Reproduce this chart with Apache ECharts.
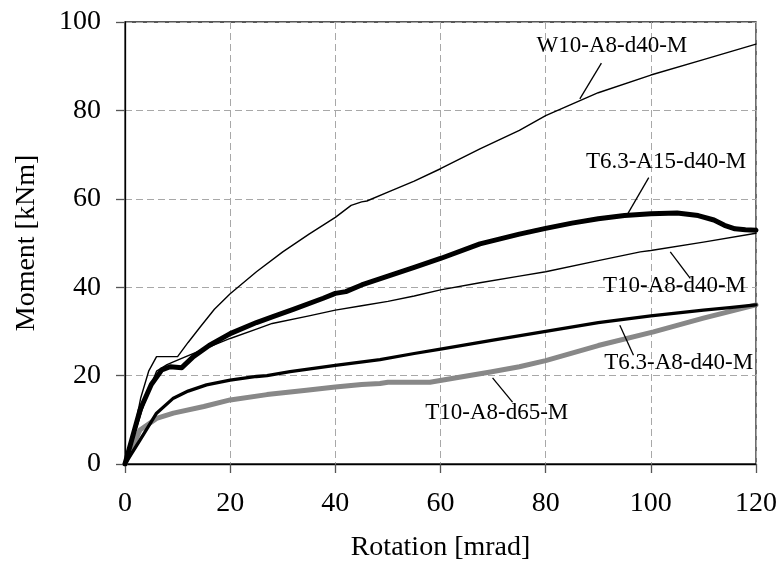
<!DOCTYPE html>
<html>
<head>
<meta charset="utf-8">
<script src="https://cdn.jsdelivr.net/npm/echarts@6/dist/echarts.min.js"></script>
<style>html,body{margin:0;padding:0;background:#fff}#c{width:784px;height:580px}</style>
</head>
<body>
<div id="c"></div>
<script>
// ---- data (rotation [mrad], moment [kNm]) ----
const xTicks = [0, 20, 40, 60, 80, 100, 120];
const yTicks = [0, 20, 40, 60, 80, 100];

const W10_A8_d40 = [[0,0],[2,9],[3,15],[4.5,21],[6,24.3],[10,24.3],[12,27.5],[14.3,31],[17,35],[20,38.5],[25,43.5],[30,48],[35,52],[40,55.8],[43,58.5],[45,59.3],[46,59.5],[50,61.5],[55,64],[60,66.8],[67.5,71.3],[75,75.5],[80,78.8],[90,84],[100,88],[110,91.5],[120,95]];
const T63_A15_d40 = [[0,0],[2.85,12.2],[5,18],[7,21.3],[8.6,22],[10.8,21.8],[13,24.3],[16,26.8],[20,29.5],[25,32],[28,33.3],[32,35],[37.7,37.5],[40,38.6],[42,39],[45,40.5],[50,42.5],[55,44.5],[60,46.5],[67.5,49.8],[75,52],[80,53.3],[85,54.5],[90,55.5],[95,56.2],[100,56.6],[105,56.8],[109,56.2],[112,55.2],[114,54],[116,53.2],[118,53],[120,52.9]];
const T10_A8_d40 = [[0,0],[2,7.5],[4,15],[6,21],[8,22.5],[9.2,23.1],[11.8,24.4],[15,26],[20,28.4],[25,30.5],[28,31.8],[35,33.5],[40,34.8],[45,35.8],[50,36.8],[55,38],[60,39.4],[67.5,41],[75,42.5],[80,43.5],[90,46],[98,48],[100,48.3],[110,50.2],[120,52.2]];
const T63_A8_d40 = [[0,0],[2.85,5.4],[6,11.5],[9.2,14.9],[12,16.5],[15.5,17.9],[20,19],[25,19.8],[27,20],[31.4,20.9],[40,22.3],[48.5,23.6],[55,25],[60,26],[70,28],[80,30],[90,32],[100,33.5],[110,34.8],[115,35.4],[120,36]];
const T10_A8_d65 = [[0,0],[1.5,4],[2.85,7.7],[6,10.3],[9.2,11.5],[15,13],[20,14.5],[27,15.7],[34.5,16.7],[40,17.4],[45,18],[48.5,18.2],[50,18.5],[58,18.5],[63,19.5],[69.5,20.8],[75,22],[80,23.4],[90,26.8],[100.5,29.9],[110,33],[120,36]];

// annotation: label, text centre [x,y], arrow tail [x,y], arrow tip [x,y]
const annLabels = ['W10-A8-d40-M','T6.3-A15-d40-M','T10-A8-d40-M','T6.3-A8-d40-M','T10-A8-d65-M'];
const annText   = [[92.6,94.6],[102.9,68.3],[104.5,40.3],[105.3,22.9],[70.7,11.5]];
const annTail   = [[90.6,90.7],[99.6,64.8],[107.5,42.0],[96.7,24.6],[73.7,14.0]];
const annTip    = [[86.5,82.6],[95.6,56.6],[103.7,48.0],[94.1,31.4],[69.9,19.5]];

const FONT = '"Liberation Serif","Times New Roman",serif';

const chart = echarts.init(document.getElementById('c'), null, {renderer:'canvas'});

function lineSeries(name, data, color, width, z){
  return {name, type:'line', data, showSymbol:false, symbol:'none', smooth:false,
    lineStyle:{color, width, cap:'round', join:'round'}, z, animation:false};
}

const series = [
  lineSeries('T10-A8-d65-M', T10_A8_d65, '#888888', 5, 2),
  lineSeries('T6.3-A8-d40-M', T63_A8_d40, '#000', 3.3, 3),
  lineSeries('T10-A8-d40-M', T10_A8_d40, '#000', 1.4, 4),
  lineSeries('T6.3-A15-d40-M', T63_A15_d40, '#000', 5, 5),
  lineSeries('W10-A8-d40-M', W10_A8_d40, '#000', 1.4, 6)
];

// helper series that carries annotations
series.push({
  type:'line', data:[], silent:true, animation:false, z:10,
  markLine:{
    silent:true, animation:false, symbol:['none','arrow'], symbolSize:[0,13],
    label:{show:false},
    lineStyle:{color:'#000', width:1.3, type:'solid'},
    data: annLabels.map((l,i)=>[{coord:annTail[i]},{coord:annTip[i]}])
  },
  markPoint:{
    silent:true, animation:false, symbol:'circle', symbolSize:0,
    label:{show:true, position:'inside', color:'#000', fontFamily:FONT, fontSize:23, formatter:p=>p.name},
    data: annLabels.map((l,i)=>({name:l, coord:annText[i]}))
  }
});

chart.setOption({
  animation:false,
  backgroundColor:'#fff',
  grid:{left:125, right:28, top:22, bottom:116, show:true, borderColor:'#222', borderWidth:1.3, backgroundColor:'transparent'},
  xAxis:{
    type:'value', min:xTicks[0], max:xTicks[xTicks.length-1], interval:20,
    name:'Rotation [mrad]', nameLocation:'middle', nameGap:70,
    nameTextStyle:{fontFamily:FONT, fontSize:28, color:'#000'},
    axisLine:{show:true, lineStyle:{color:'#000', width:1.3}},
    axisTick:{show:true, inside:false, length:9, lineStyle:{color:'#555', width:1.3}},
    axisLabel:{fontFamily:FONT, fontSize:28, color:'#000', margin:26},
    splitLine:{show:true, lineStyle:{color:'#a8a8a8', type:[7,4], width:1}}
  },
  yAxis:{
    type:'value', min:yTicks[0], max:yTicks[yTicks.length-1], interval:20,
    name:'Moment [kNm]', nameLocation:'middle', nameGap:84,
    nameTextStyle:{fontFamily:FONT, fontSize:28, color:'#000'},
    axisLine:{show:true, lineStyle:{color:'#000', width:1.3}},
    axisTick:{show:true, inside:false, length:9, lineStyle:{color:'#555', width:1.3}},
    axisLabel:{fontFamily:FONT, fontSize:28, color:'#000', margin:24},
    splitLine:{show:true, lineStyle:{color:'#a8a8a8', type:[7,4], width:1}}
  },
  series
});
</script>
</body>
</html>
